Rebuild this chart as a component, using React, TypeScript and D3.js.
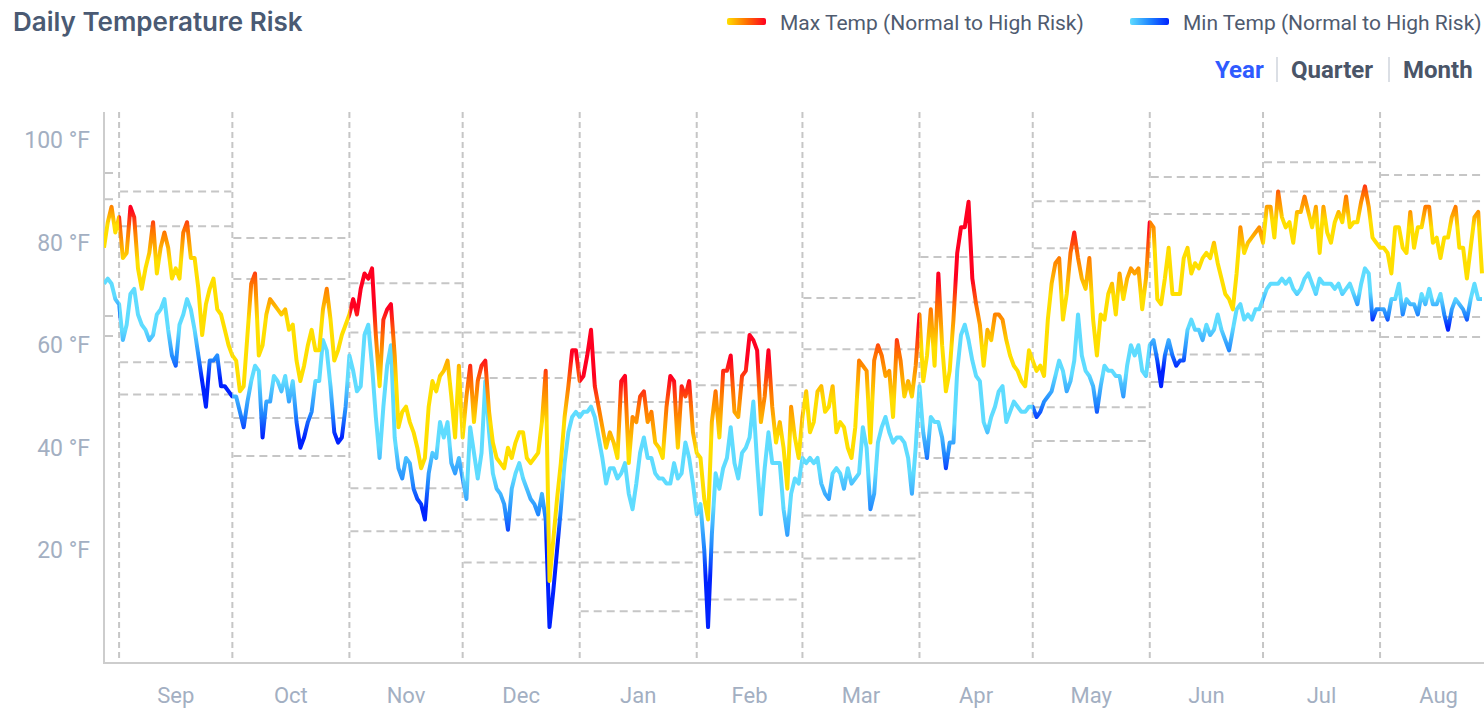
import React, { useEffect, useRef } from 'react';
import * as d3 from 'd3';

// daily series, starting Aug 28 2022
const startDay = '2022-08-28';

const maxTemps = [
  79, 84, 87, 82, 85, 77, 78, 87, 85, 75, 71, 75, 78, 84, 74, 79, 82, 79, 73, 75, 73, 82, 84, 77, 77, 71, 62, 68, 71, 73, 67, 66, 63, 60,
  58, 57, 51, 52, 62, 72, 74, 58, 60, 66, 69, 68, 67, 66, 67, 63, 64, 57, 53, 56, 60, 63, 59, 59, 67, 71, 65, 57, 59, 62, 64,
  66, 69, 66, 71, 74, 73, 75, 62, 52, 65, 67, 68, 58, 44, 47, 48, 45, 43, 40, 36, 38, 48, 53, 51, 54, 55, 57, 50, 42, 56,
  42, 50, 56, 45, 53, 56, 57, 47, 41, 38, 37, 36, 40, 38, 41, 43, 43, 38, 37, 38, 39, 45, 55, 14, 22, 30, 37, 46, 52, 59, 59,
  53, 54, 58, 63, 52, 48, 44, 40, 43, 41, 38, 53, 54, 37, 46, 45, 50, 51, 45, 47, 41, 40, 38, 48, 54, 53, 40, 52, 50, 53, 43,
  39, 38, 30, 26, 45, 51, 42, 55, 55, 58, 47, 46, 54, 55, 62, 61, 59, 45, 50, 59, 48, 41, 45, 40, 32, 48, 42, 38,
  46, 51, 43, 45, 51, 52, 47, 48, 52, 43, 45, 44, 40, 38, 44, 57, 56, 55, 41, 57, 60, 58, 54, 55, 46, 61, 57, 50, 53, 50, 56,
  66, 53, 58, 67, 56, 74, 60, 51, 55, 65, 78, 83, 83, 88, 73, 68, 64, 56, 63, 61, 66, 66, 65, 61, 58, 56, 55, 53, 52, 59,
  57, 55, 56, 54, 65, 72, 76, 77, 65, 70, 78, 82, 77, 73, 71, 77, 65, 58, 66, 65, 70, 72, 66, 74, 69, 73, 75, 74, 75, 67, 73,
  84, 83, 69, 68, 73, 79, 70, 70, 70, 77, 79, 74, 76, 75, 77, 78, 77, 80, 76, 73, 70, 69, 67, 74, 83, 78, 80, 81, 82, 83,
  80, 87, 87, 81, 90, 85, 83, 84, 80, 86, 86, 89, 86, 83, 87, 78, 87, 82, 80, 84, 86, 84, 89, 83, 84, 84, 88, 91, 87, 81, 80,
  79, 79, 78, 74, 83, 83, 79, 78, 86, 79, 83, 83, 87, 87, 80, 81, 77, 81, 81, 85, 87, 79, 79, 73, 79, 85, 86, 74,
];

const minTemps = [
  72, 73, 72, 69, 68, 61, 64, 70, 71, 66, 64, 63, 61, 62, 66, 67, 69, 63, 58, 56, 64, 66, 69, 67, 63, 58, 53, 48, 57, 57, 58, 52, 52, 51,
  50, 50, 47, 44, 49, 53, 56, 55, 42, 49, 49, 54, 53, 51, 54, 49, 53, 45, 40, 42, 45, 47, 53, 53, 61, 59, 52, 43, 41, 42, 48,
  58, 55, 51, 52, 62, 64, 56, 46, 38, 48, 56, 60, 42, 36, 34, 38, 37, 32, 30, 29, 26, 35, 39, 38, 45, 42, 45, 37, 35, 38,
  34, 30, 44, 39, 34, 39, 53, 43, 35, 32, 31, 29, 24, 32, 35, 37, 34, 32, 30, 29, 27, 31, 26, 5, 12, 20, 28, 37, 43, 46, 47,
  46, 47, 47, 48, 46, 42, 38, 33, 36, 36, 34, 35, 37, 31, 28, 33, 39, 42, 38, 38, 35, 34, 34, 33, 33, 37, 34, 35, 41, 38, 33,
  27, 29, 20, 5, 23, 35, 32, 36, 38, 44, 37, 34, 39, 40, 42, 49, 37, 27, 36, 43, 37, 37, 37, 28, 23, 31, 34, 33,
  38, 37, 38, 37, 38, 33, 31, 30, 35, 36, 35, 32, 36, 33, 34, 35, 44, 40, 28, 31, 41, 44, 46, 43, 41, 42, 42, 41, 38, 31, 40,
  52, 43, 38, 46, 45, 45, 42, 36, 41, 41, 55, 62, 64, 61, 57, 54, 53, 45, 43, 46, 48, 51, 52, 45, 47, 49, 48, 47, 47, 48,
  48, 46, 47, 49, 50, 51, 54, 57, 55, 51, 53, 57, 66, 58, 55, 54, 52, 47, 52, 56, 55, 55, 54, 54, 50, 56, 60, 58, 60, 55, 54,
  60, 61, 57, 52, 58, 61, 58, 56, 57, 57, 63, 65, 63, 63, 61, 64, 62, 63, 66, 63, 61, 59, 63, 67, 68, 65, 66, 65, 67, 67,
  69, 71, 72, 72, 72, 73, 72, 73, 71, 70, 71, 73, 74, 72, 70, 73, 72, 72, 72, 71, 72, 70, 71, 72, 70, 68, 72, 75, 74, 65, 67,
  67, 67, 65, 69, 69, 72, 66, 69, 68, 68, 66, 70, 68, 71, 68, 68, 70, 66, 63, 67, 69, 68, 67, 65, 69, 72, 69, 69,
];

// monthly risk thresholds (dashed lines)
const monthStarts = [
  '2022-08-01', '2022-09-01', '2022-10-01', '2022-11-01', '2022-12-01', '2023-01-01', '2023-02-01',
  '2023-03-01', '2023-04-01', '2023-05-01', '2023-06-01', '2023-07-01', '2023-08-01',
];
const maxRiskHigh = [93.6, 90, 80.9, 72.1, 62.5, 58.6, 62.5, 69.2, 77.2, 88.1, 92.8, 95.7, 93.2];
const maxRiskLow = [88.5, 83.2, 72.9, 62.5, 53.6, 48.9, 52.2, 59.2, 68.4, 78.9, 85.6, 90, 88.1];
const minRiskHigh = [65.7, 56.7, 45.8, 32.1, 26, 17.6, 19.6, 26.8, 38, 47.9, 58.2, 66.6, 65.5];
const minRiskLow = [61.8, 50.4, 38.4, 23.7, 17.6, 8.1, 10.4, 18.4, 31.2, 41.3, 52.8, 62.7, 61.6];

const yTicks = [20, 40, 60, 80, 100];
const periods = ['Year', 'Quarter', 'Month'];

const warmColors = ['#ffdf00', '#ff7000', '#ff0020'];
const coolColors = ['#5fdcff', '#1f86ff', '#0022ff'];

const parse = d3.timeParse('%Y-%m-%d');

export default function App() {
  const svgRef = useRef<SVGSVGElement>(null);

  useEffect(() => {
    if (!svgRef.current) return;
    const width = 1484;
    const height = 709;
    const left = 104;
    const top = 112;
    const bottom = 663;

    const svg = d3.select(svgRef.current).attr('width', width).attr('height', height);
    svg.selectAll('*').remove();

    const start = parse(startDay)!;
    const dates = maxTemps.map((_, i) => d3.timeDay.offset(start, i));
    const end = dates[dates.length - 1];

    const x = d3.scaleTime().domain([start, end]).range([left, 1482]);
    const y = d3.scaleLinear().domain([-2, 105.5]).range([bottom, top]);

    const defs = svg.append('defs');
    const months = monthStarts.map(parse) as Date[];
    const spans = months.map(m => {
      const next = d3.timeMonth.offset(m, 1);
      return [Math.max(x(m), left), Math.min(x(next), width)];
    });

    const grid = svg.append('g');
    // vertical month dividers
    grid.selectAll('line.v')
      .data(months.filter(m => m > start))
      .join('line')
      .attr('x1', d => x(d)).attr('x2', d => x(d))
      .attr('y1', top).attr('y2', bottom)
      .attr('stroke', '#c6c6c6').attr('stroke-width', 2)
      .attr('stroke-dasharray', '6,4');

    // threshold segments
    const thresholds = [maxRiskHigh, maxRiskLow, minRiskHigh, minRiskLow];
    thresholds.forEach(arr => {
      grid.append('g').selectAll('line')
        .data(arr)
        .join('line')
        .attr('x1', (_, i) => spans[i][0] + 1)
        .attr('x2', (_, i) => spans[i][1] - 1)
        .attr('y1', d => y(d)).attr('y2', d => y(d))
        .attr('stroke', '#c6c6c6').attr('stroke-width', 2)
        .attr('stroke-dasharray', '8,5');
    });

    // axes
    svg.append('line')
      .attr('x1', left).attr('x2', left).attr('y1', top).attr('y2', bottom)
      .attr('stroke', '#cdcdcd').attr('stroke-width', 2);
    svg.append('line')
      .attr('x1', left - 1).attr('x2', width).attr('y1', bottom).attr('y2', bottom)
      .attr('stroke', '#cdcdcd').attr('stroke-width', 2);

    svg.append('g').selectAll('text')
      .data(yTicks)
      .join('text')
      .attr('x', 90).attr('y', d => y(d))
      .attr('dy', '0.35em')
      .attr('text-anchor', 'end')
      .attr('fill', '#a3afc2')
      .style('font-size', '23px')
      .text(d => `${d} °F`);

    svg.append('g').selectAll('text')
      .data(months.filter(m => m > start))
      .join('text')
      .attr('x', d => x(new Date((+d + +d3.timeMonth.offset(d, 1)) / 2)))
      .attr('y', 703)
      .attr('text-anchor', 'middle')
      .attr('fill', '#a3afc2')
      .style('font-size', '22px')
      .text(d => d3.timeFormat('%b')(d));

    const line = d3.line<number>()
      .x((_, i) => x(dates[i]))
      .y(d => y(d));

    // gradient runs from normal colour to high-risk colour, per month
    const series = [
      {
        key: 'min', data: minTemps, colors: coolColors,
        from: (i: number) => minRiskHigh[i] + (minRiskHigh[i] - minRiskLow[i]),
        to: (i: number) => minRiskHigh[i] - 0.5 * (minRiskHigh[i] - minRiskLow[i]),
      },
      {
        key: 'max', data: maxTemps, colors: warmColors,
        from: (i: number) => maxRiskLow[i] - (maxRiskHigh[i] - maxRiskLow[i]),
        to: (i: number) => maxRiskLow[i] + 0.5 * (maxRiskHigh[i] - maxRiskLow[i]),
      },
    ];

    spans.forEach((s, i) => {
      defs.append('clipPath').attr('id', `clip-${i}`)
        .append('rect')
        .attr('x', s[0]).attr('y', 0)
        .attr('width', s[1] - s[0]).attr('height', height);
    });

    series.forEach(sr => {
      const g = svg.append('g');
      spans.forEach((s, i) => {
        const grad = defs.append('linearGradient')
          .attr('id', `grad-${sr.key}-${i}`)
          .attr('gradientUnits', 'userSpaceOnUse')
          .attr('x1', 0).attr('x2', 0)
          .attr('y1', y(sr.from(i))).attr('y2', y(sr.to(i)));
        [0, 0.6, 1].forEach((o, k) => {
          grad.append('stop').attr('offset', o).attr('stop-color', sr.colors[k]);
        });
        g.append('path')
          .datum(sr.data)
          .attr('clip-path', `url(#clip-${i})`)
          .attr('d', line)
          .attr('fill', 'none')
          .attr('stroke', `url(#grad-${sr.key}-${i})`)
          .attr('stroke-width', 4)
          .attr('stroke-linejoin', 'round');
      });
    });

    // title
    svg.append('text')
      .attr('x', 13).attr('y', 31)
      .attr('fill', '#4a5a73')
      .style('font-family', 'Inter, sans-serif')
      .style('font-size', '26px').style('font-weight', 600)
      .text('Daily Temperature Risk');

    // legend
    const legend = [
      { label: 'Max Temp (Normal to High Risk)', colors: warmColors, x: 727 },
      { label: 'Min Temp (Normal to High Risk)', colors: coolColors, x: 1130 },
    ];
    legend.forEach((l, i) => {
      const lg = defs.append('linearGradient').attr('id', `legend-${i}`);
      l.colors.forEach((c, k) => lg.append('stop').attr('offset', k / 2).attr('stop-color', c));
      svg.append('rect')
        .attr('x', l.x).attr('y', 18).attr('width', 39).attr('height', 7).attr('rx', 2)
        .attr('fill', `url(#legend-${i})`);
      svg.append('text')
        .attr('x', l.x + 53).attr('y', 30)
        .attr('fill', '#4f5b6f')
        .style('font-size', '21px')
        .text(l.label);
    });

    // period switch
    const px = [1215, 1291, 1403];
    svg.append('g').selectAll('text')
      .data(periods)
      .join('text')
      .attr('x', (_, i) => px[i]).attr('y', 78)
      .attr('fill', (_, i) => (i === 0 ? '#2f5bff' : '#4a5568'))
      .style('font-size', '24px').style('font-weight', 700)
      .text(d => d);
    svg.append('g').selectAll('line')
      .data([1277, 1389])
      .join('line')
      .attr('x1', d => d).attr('x2', d => d).attr('y1', 57).attr('y2', 82)
      .attr('stroke', '#cfd4dc').attr('stroke-width', 1.5);
  }, []);

  return (
    <div style={{ position: 'absolute', left: 0, top: 0 }}>
      <svg ref={svgRef} style={{ display: 'block', fontFamily: 'Roboto, sans-serif' }} />
    </div>
  );
}
